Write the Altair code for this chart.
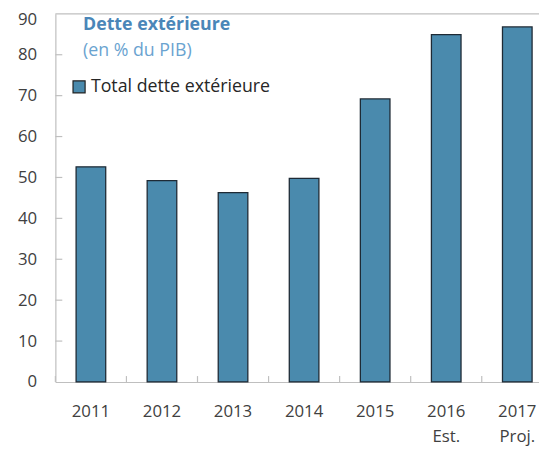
import altair as alt
import pandas as pd

years = ["2011", "2012", "2013", "2014", "2015", "2016", "2017"]
sublabels = ["", "", "", "", "", "Est.", "Proj."]
values = [52.6, 49.2, 46.3, 49.8, 69.2, 84.9, 86.8]
series_name = "Total dette extérieure"
y_ticks = [10, 20, 30, 40, 50, 60, 70, 80]
title_text = "Dette extérieure"
subtitle_text = "(en % du PIB)"

FONT = "Open Sans"
AXIS_GREY = "#bfbfbf"
BAR_FILL = "#4a8aad"
BAR_STROKE = "#1e2a35"

PLOT_H = 373

df = pd.DataFrame({"year": years, "value": values, "series": [series_name] * len(years)})
df_ticks = pd.DataFrame({"t": y_ticks})
df_years = pd.DataFrame({"year": years})

# multi-line labels
parts = []
for y, s in zip(years, sublabels):
    if s:
        parts.append(f"datum.value == '{y}' ? ['{y}', '{s}']")
label_expr = " : ".join(parts) + " : datum.value"

x_scale = alt.Scale(domain=years, range=[0, 504], paddingInner=0, paddingOuter=0)
y_scale = alt.Scale(domain=[0, 90], nice=False, zero=True)

bars = alt.Chart(df).mark_bar(width=30, stroke=BAR_STROKE, strokeWidth=1.3).encode(
    x=alt.X("year:N", scale=x_scale, sort=years,
            axis=alt.Axis(title=None, labelExpr=label_expr, labelAngle=0,
                          ticks=False, tickSize=0, labelPadding=22,
                          labelFontSize=17, labelFont=FONT, labelColor="#404040",
                          labelLineHeight=25, domainColor=AXIS_GREY, domainWidth=1.2,
                          labelBaseline="top")),
    y=alt.Y("value:Q", scale=y_scale,
            axis=alt.Axis(title=None, values=[0] + y_ticks + [90], ticks=False, tickSize=0,
                          labelPadding=19, labelFontSize=17, labelFont=FONT,
                          labelColor="#404040", grid=False, domainColor=AXIS_GREY,
                          domainWidth=1.2,
                          labelOffset={"condition": {"test": "datum.value == 90", "value": 6},
                                       "value": 0})),
    color=alt.Color("series:N", scale=alt.Scale(range=[BAR_FILL]),
                    legend=alt.Legend(title=None, orient="none", legendX=15, legendY=65,
                                      symbolType="square", symbolSize=150,
                                      symbolStrokeColor="#222222", symbolStrokeWidth=1.2,
                                      labelFontSize=18, labelFont=FONT, labelColor="#262626",
                                      labelOffset=3, labelLimit=400, padding=0)),
)

ytick_rules = alt.Chart(df_ticks).mark_rule(color=AXIS_GREY, strokeWidth=1.2).encode(
    y=alt.Y("t:Q", scale=y_scale),
    x=alt.value(0),
    x2=alt.value(7),
)

xtick_rules = alt.Chart(df_years).mark_rule(color=AXIS_GREY, strokeWidth=1.2).encode(
    x=alt.X("year:N", scale=x_scale, sort=years, bandPosition=0),
    y=alt.value(PLOT_H),
    y2=alt.value(PLOT_H - 6),
)

top_rule = alt.Chart(alt.Data(values=[{"a": 1}])).mark_rule(color=AXIS_GREY, strokeWidth=1.2).encode(
    y=alt.value(0),
    x=alt.value(0),
    x2=alt.value(600),
)

title_mark = alt.Chart(alt.Data(values=[{"t": title_text}])).mark_text(
    align="left", baseline="alphabetic", font=FONT, fontSize=18, fontWeight="bold",
    color="#4a86b8").encode(text="t:N", x=alt.value(28), y=alt.value(16))

subtitle_mark = alt.Chart(alt.Data(values=[{"t": subtitle_text}])).mark_text(
    align="left", baseline="alphabetic", font=FONT, fontSize=18,
    color="#6aa3d0").encode(text="t:N", x=alt.value(28), y=alt.value(43))

chart = alt.layer(bars, ytick_rules, xtick_rules, top_rule, title_mark, subtitle_mark).properties(
    width=490, height=PLOT_H,
    autosize=alt.AutoSizeParams(type="none"),
    padding={"left": 48, "top": 3, "right": 0, "bottom": 66},
).configure_view(stroke=None)

chart.save("out.html", embed_options={"renderer": "svg", "actions": False})
